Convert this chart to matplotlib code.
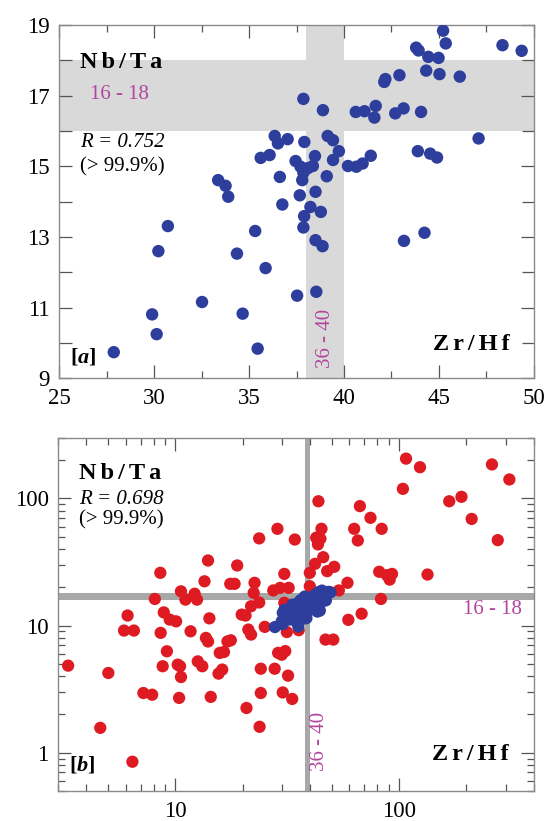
import matplotlib
matplotlib.use("Agg")
import matplotlib.pyplot as plt
from matplotlib.ticker import MultipleLocator, FixedLocator, LogLocator, FuncFormatter, NullFormatter

plt.rcParams['font.family'] = ['Liberation Serif', 'DejaVu Serif']
# mathtext only used for the panel tags: upright bold brackets, bold-italic letter
plt.rcParams['mathtext.fontset'] = 'custom'
plt.rcParams['mathtext.rm'] = 'Liberation Serif:bold'
plt.rcParams['mathtext.it'] = 'Liberation Serif:italic:bold'

# Zr/Hf vs Nb/Ta, blue dataset (panel a, also overlaid in panel b)
blue_zrhf = [45.22, 48.35, 49.36, 45.36, 43.80, 43.93, 44.44, 44.98, 44.33, 45.03,
             46.10, 42.92, 42.18, 42.12, 37.86, 38.89, 40.62, 41.08, 41.67, 41.60,
             42.70, 43.14, 44.06, 47.09, 37.91, 36.35, 36.52, 37.03, 39.14, 39.42,
             39.73, 39.42, 38.47, 35.61, 36.08, 37.45, 37.71, 38.36, 37.86, 37.80,
             40.21, 40.65, 40.98, 41.41, 43.89, 44.54, 44.90, 39.09, 36.62, 33.37,
             33.76, 33.90, 37.67, 38.50, 36.75, 38.23, 38.78, 37.90, 37.86, 30.72,
             35.32, 38.50, 38.87, 43.16, 44.24, 30.22, 34.36, 35.87, 37.53, 38.54,
             32.52, 29.89, 34.66, 30.13, 35.45, 27.87, 38.10]
blue_nbta = [18.84, 18.43, 18.27, 18.48, 18.36, 18.28, 18.10, 18.07, 17.71, 17.61,
             17.54, 17.58, 17.47, 17.39, 16.91, 16.59, 16.54, 16.56, 16.71, 16.38,
             16.50, 16.64, 16.54, 15.79, 15.69, 15.86, 15.65, 15.77, 15.86, 15.74,
             15.43, 15.18, 15.29, 15.24, 15.32, 15.15, 14.99, 15.01, 14.82, 14.61,
             15.01, 14.99, 15.08, 15.30, 15.43, 15.36, 15.25, 14.72, 14.70, 14.61,
             14.45, 14.14, 14.18, 14.28, 13.92, 13.85, 13.71, 13.59, 13.27, 13.31,
             13.17, 12.91, 12.74, 12.89, 13.12, 12.60, 12.53, 12.12, 11.34, 11.45,
             11.16, 10.81, 10.83, 10.25, 9.84, 9.74, 14.95]

# red dataset (panel b only)
red_zrhf = [107.4, 124, 260, 311, 104, 167.5, 190, 211, 276,
            43.6, 66.8, 74.5, 83.6, 63, 65.4, 45, 42.6, 44.5, 43.4,
            28.6, 23.7, 34.2, 45.8, 14, 18.9, 8.57, 42.1, 47.7, 51.3, 39.9,
            30.7, 81.5, 88.2, 93, 90.8, 134, 58.8, 53.8, 13.5, 17.6, 18.4,
            22.6, 27.4, 29.4, 32.1, 39.9, 22.4, 10.6, 11.1, 12.2, 12.5, 8.1,
            83, 23.7, 21.8, 30.7,
            6.12, 5.9, 6.53, 8.88, 9.44, 10.08, 8.6, 9.17, 8.78, 10.25, 10.5, 10.6,
            3.32, 5.02, 7.2, 7.88, 10.4, 14.4, 11.7, 14.2, 19.8, 20.6, 21.2, 21.8,
            13.7, 14.0, 17.1, 17.7, 15.8, 16.5, 12.6, 13.2, 15.6, 16.2, 25.1, 24.1,
            24.1, 20.8, 23.8, 4.62, 6.43, 28.8, 29.9, 31.0, 27.8, 31.9, 30.2, 33.3,
            31.5, 35.6, 46.9, 50.8, 59.3, 68]
red_nbta = [205.6, 176, 185, 141, 119, 95, 103, 69, 47,
            95, 87, 70.4, 57.7, 57.7, 46.7, 57.7, 49.1, 48.2, 43.5,
            57.7, 48.5, 47.5, 34.5, 32.5, 29.7, 26, 30.6, 26.8, 29, 26,
            25.5, 26.5, 24.9, 25.5, 23, 25.2, 21.7, 18.9, 22.3, 21.3, 21.3,
            21.7, 18.9, 19.8, 19.8, 20.4, 18.1, 18.6, 16, 17.8, 16, 16.2,
            16.2, 15.2, 14.2, 15.1,
            12, 9.14, 9.14, 12.7, 11.15, 10.8, 8.77, 6.28, 4.79, 4.93, 4.79, 3.94,
            4.84, 4.24, 2.95, 2.86, 2.7, 2.75, 9.02, 11.4, 12.2, 12, 9.3, 8.5,
            8.0, 7.5, 7.5, 7.66, 6.1, 6.2, 5.23, 4.79, 4.19, 4.51, 9.77, 4.58,
            2.95, 2.25, 1.6, 1.57, 0.85, 6.1, 5.9, 6.3, 4.58, 4.04, 2.98, 2.65,
            8.9, 9.2, 7.76, 7.76, 11.1, 12.4]

BLUE = "#2e3e9c"
RED = "#de1a22"
MAGENTA = "#b2449c"
SPINE = "#8a8a8a"
SP = "\u2006"  # six-per-em space for the letter-spaced bold labels

fig = plt.figure(figsize=(5.47, 8.21), dpi=100)
ax_a = fig.add_axes([0.1084, 0.5392, 0.8675, 0.4303])
ax_b = fig.add_axes([0.1066, 0.0365, 0.8693, 0.4303])

for ax in (ax_a, ax_b):
    for s in ax.spines.values():
        s.set_color(SPINE)
        s.set_linewidth(1.0)
    ax.tick_params(which="both", direction="in", top=True, right=True,
                   colors="#555555", labelcolor="black", labelsize=16.5, width=0.9)
    ax.tick_params(which="major", length=9.5, pad=7)
    ax.tick_params(which="minor", length=5)

# ---- panel a
ax_a.axvspan(38, 40, color="#d9d9d9", lw=0, zorder=0)
ax_a.axhspan(16, 18, color="#d9d9d9", lw=0, zorder=0)
ax_a.scatter(blue_zrhf, blue_nbta, s=80, color=BLUE, edgecolors="none", zorder=3)
ax_a.set_xlim(25, 50)
ax_a.set_ylim(9, 19)
ax_a.xaxis.set_major_locator(MultipleLocator(5))
ax_a.xaxis.set_minor_locator(MultipleLocator(2.5))
ax_a.yaxis.set_major_locator(FixedLocator([9, 11, 13, 15, 17, 19]))
ax_a.yaxis.set_minor_locator(FixedLocator([10, 12, 14, 16, 18]))
ax_a.tick_params(axis="y", which="minor", length=9)

nbta = SP.join("Nb/Ta")
zrhf = SP.join("Zr/Hf")

ax_a.text(0.044, 0.895, nbta, transform=ax_a.transAxes,
          fontsize=17.5, fontweight="bold", va="center", ha="left")
ax_a.text(0.065, 0.802, "16 - 18", transform=ax_a.transAxes, fontsize=15,
          color=MAGENTA, va="center", ha="left")
ax_a.text(0.044, 0.667, "R = 0.752", transform=ax_a.transAxes, fontsize=15,
          style="italic", va="center", ha="left")
ax_a.text(0.044, 0.599, "(> 99.9%)", transform=ax_a.transAxes, fontsize=15,
          va="center", ha="left")
ax_a.text(0.948, 0.097, zrhf, transform=ax_a.transAxes,
          fontsize=17.5, fontweight="bold", va="center", ha="right")
ax_a.text(0.023, 0.061, r"$\mathrm{[}\mathit{a}\mathrm{]}$", transform=ax_a.transAxes,
          fontsize=16, va="center", ha="left")
ax_a.text(39.0, 10.14, "36 - 40", rotation=90, fontsize=15, color=MAGENTA,
          va="center", ha="center")

# ---- panel b
ax_b.set_xscale("log")
ax_b.set_yscale("log")
ax_b.axvspan(38, 40, color="#a8a8a8", lw=0, zorder=0)
ax_b.axhspan(16, 18, color="#a8a8a8", lw=0, zorder=0)
ax_b.scatter(red_zrhf, red_nbta, s=78, color=RED, edgecolors="none", zorder=2)
ax_b.scatter(blue_zrhf, blue_nbta, s=78, color=BLUE, edgecolors="none", zorder=3)
ax_b.set_xlim(3, 400)
ax_b.set_ylim(0.5, 300)
fmt = FuncFormatter(lambda v, p: "%g" % v)
for axis in (ax_b.xaxis, ax_b.yaxis):
    axis.set_major_locator(LogLocator(base=10))
    axis.set_minor_locator(LogLocator(base=10, subs=range(2, 10)))
    axis.set_major_formatter(fmt)
    axis.set_minor_formatter(NullFormatter())

ax_b.text(0.044, 0.899, nbta, transform=ax_b.transAxes,
          fontsize=17.5, fontweight="bold", va="center", ha="left")
ax_b.text(0.044, 0.824, "R = 0.698", transform=ax_b.transAxes, fontsize=15,
          style="italic", va="center", ha="left")
ax_b.text(0.044, 0.767, "(> 99.9%)", transform=ax_b.transAxes, fontsize=15,
          va="center", ha="left")
ax_b.text(0.975, 0.515, "16 - 18", transform=ax_b.transAxes, fontsize=15,
          color=MAGENTA, va="center", ha="right")
ax_b.text(0.55, 0.14, "36 - 40", transform=ax_b.transAxes, rotation=90,
          fontsize=15, color=MAGENTA, va="center", ha="center")
ax_b.text(0.948, 0.102, zrhf, transform=ax_b.transAxes,
          fontsize=17.5, fontweight="bold", va="center", ha="right")
ax_b.text(0.023, 0.074, r"$\mathrm{[}\mathit{b}\mathrm{]}$", transform=ax_b.transAxes,
          fontsize=16, va="center", ha="left")

fig.savefig("out.png", dpi=100)
